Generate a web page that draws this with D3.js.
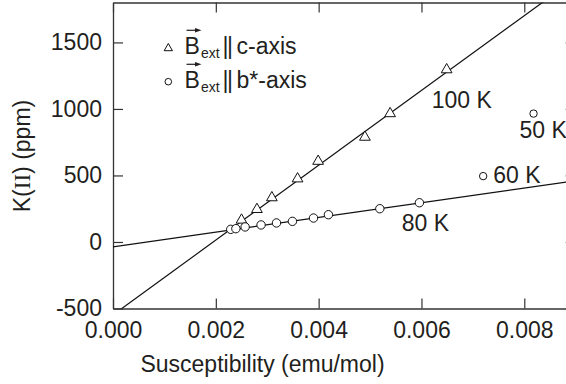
<!DOCTYPE html>
<html>
<head>
<meta charset="utf-8">
<script src="https://cdn.jsdelivr.net/npm/d3@7"></script>
<style>
  body { margin: 0; background: #fff; }
  text { font-family: "Liberation Sans", Arial, sans-serif; fill: #231f20; }
</style>
</head>
<body>
<svg id="chart" width="566" height="384"></svg>
<script>
// Axis ticks
const xTicks = [0, 0.002, 0.004, 0.006, 0.008];
const xTickLabels = ["0.000", "0.002", "0.004", "0.006", "0.008"];
const yTicks = [-500, 0, 500, 1000, 1500];
const yTickLabels = ["-500", "0", "500", "1000", "1500"];

// B_ext || c-axis (triangles)
const cAxisX = [0.00250, 0.00280, 0.00309, 0.00359, 0.00399, 0.00490, 0.00539, 0.00649];
const cAxisY = [165, 245, 333, 475, 607, 788, 965, 1295];

// B_ext || b*-axis (circles), points on the linear fit
const bAxisX = [0.00229, 0.00239, 0.00257, 0.00288, 0.00318, 0.00349, 0.00390, 0.00419, 0.00519, 0.00596];
const bAxisY = [95, 100, 113, 128, 143, 155, 180, 205, 250, 295];

// b*-axis points at low temperature (off the fit)
const bLowX = [0.00720, 0.00818];
const bLowY = [495, 965];

// Linear fits: [susceptibility, K] end points
const fitC = [[0, -548], [0.009, 1982]];
const fitB = [[0, -37], [0.009, 461]];

// Temperature labels
const tempLabels = ["100 K", "80 K", "60 K", "50 K"];

const legendLabels = ["c-axis", "b*-axis"];

const svg = d3.select("#chart");

const x = d3.scaleLinear().domain([0, 0.009]).range([113, 575.7]);
const y = d3.scaleLinear().domain([-500, 1800]).range([308.5, 2.5]);

const axisColor = "#333";
const fontSize = 23;

// Clip for the plot area
svg.append("defs").append("clipPath").attr("id", "plot-clip")
  .append("rect")
  .attr("x", x.range()[0]).attr("y", y.range()[1])
  .attr("width", x.range()[1] - x.range()[0])
  .attr("height", y.range()[0] - y.range()[1]);

function styleAxis(g) {
  g.select(".domain").attr("stroke", axisColor).attr("stroke-width", 1.3);
  g.selectAll(".tick line").attr("stroke", axisColor).attr("stroke-width", 1.2);
  g.selectAll(".tick text")
    .attr("font-size", fontSize)
    .attr("font-family", "'Liberation Sans', Arial, sans-serif")
    .attr("fill", "#231f20");
}

// Bottom axis
svg.append("g")
  .attr("transform", `translate(0,${y.range()[0]})`)
  .call(d3.axisBottom(x).tickValues(xTicks)
    .tickFormat((d, i) => xTickLabels[i])
    .tickSizeInner(-10).tickSizeOuter(0).tickPadding(13))
  .call(styleAxis);

// Left axis
svg.append("g")
  .attr("transform", `translate(${x.range()[0]},0)`)
  .call(d3.axisLeft(y).tickValues(yTicks)
    .tickFormat((d, i) => yTickLabels[i])
    .tickSizeInner(-10).tickSizeOuter(0).tickPadding(11))
  .call(styleAxis);

// Top axis (ticks only)
svg.append("g")
  .attr("transform", `translate(0,${y.range()[1]})`)
  .call(d3.axisTop(x).tickValues(xTicks).tickFormat("")
    .tickSizeInner(-10).tickSizeOuter(0))
  .call(styleAxis);

// Right axis (ticks only)
svg.append("g")
  .attr("transform", `translate(${x.range()[1]},0)`)
  .call(d3.axisRight(y).tickValues(yTicks).tickFormat("")
    .tickSizeInner(-10).tickSizeOuter(0))
  .call(styleAxis);

// Fit lines
const line = d3.line().x(d => x(d[0])).y(d => y(d[1]));
const fits = svg.append("g").attr("clip-path", "url(#plot-clip)");
[fitC, fitB].forEach(f => {
  fits.append("path").attr("d", line(f))
    .attr("fill", "none").attr("stroke", "#111").attr("stroke-width", 1.2);
});

// Triangles
const tri = d3.symbol().type(d3.symbolTriangle).size(50);
svg.append("g").selectAll("path")
  .data(cAxisX.map((v, i) => [v, cAxisY[i]]))
  .join("path")
  .attr("d", tri)
  .attr("transform", d => `translate(${x(d[0])},${y(d[1])})`)
  .attr("fill", "#fff").attr("stroke", "#111").attr("stroke-width", 1);

// Circles
svg.append("g").selectAll("circle")
  .data(bAxisX.map((v, i) => [v, bAxisY[i]]))
  .join("circle")
  .attr("cx", d => x(d[0])).attr("cy", d => y(d[1])).attr("r", 4.2)
  .attr("fill", "#fff").attr("stroke", "#111").attr("stroke-width", 1);

svg.append("g").selectAll("circle")
  .data(bLowX.map((v, i) => [v, bLowY[i]]))
  .join("circle")
  .attr("cx", d => x(d[0])).attr("cy", d => y(d[1])).attr("r", 3.7)
  .attr("fill", "#fff").attr("stroke", "#111").attr("stroke-width", 1);

// Temperature labels placed next to their points
const labelAnchors = [
  { p: [cAxisX[cAxisX.length - 1], cAxisY[cAxisY.length - 1]], dx: -15, dy: 38 },
  { p: [bAxisX[bAxisX.length - 1], bAxisY[bAxisY.length - 1]], dx: -17.6, dy: 28.4 },
  { p: [bLowX[0], bLowY[0]], dx: 10, dy: 6.8 },
  { p: [bLowX[1], bLowY[1]], dx: -14, dy: 24.3 }
];
svg.append("g").selectAll("text")
  .data(tempLabels)
  .join("text")
  .attr("x", (d, i) => x(labelAnchors[i].p[0]) + labelAnchors[i].dx)
  .attr("y", (d, i) => y(labelAnchors[i].p[1]) + labelAnchors[i].dy)
  .attr("font-size", fontSize)
  .text(d => d);

// Axis titles
svg.append("text")
  .attr("x", 262.5).attr("y", 372)
  .attr("text-anchor", "middle")
  .attr("font-size", fontSize)
  .text("Susceptibility (emu/mol)");

const yTitle = svg.append("text")
  .attr("transform", "translate(30,156) rotate(-90)")
  .attr("text-anchor", "middle")
  .attr("font-size", fontSize);
yTitle.append("tspan").text("K(");
yTitle.append("tspan").attr("font-family", "'Liberation Serif', 'Times New Roman', serif").text("II");
yTitle.append("tspan").text(") (ppm)");

// Legend
const legend = svg.append("g");
const rows = [
  { sym: "tri", cy: 48.3, base: 54.3 },
  { sym: "circ", cy: 81.7, base: 88.3 }
];
rows.forEach((r, i) => {
  if (r.sym === "tri") {
    legend.append("path")
      .attr("d", d3.symbol().type(d3.symbolTriangle).size(30)())
      .attr("transform", `translate(168.3,${r.cy})`)
      .attr("fill", "#fff").attr("stroke", "#111").attr("stroke-width", 1);
  } else {
    legend.append("circle").attr("cx", 168.3).attr("cy", r.cy).attr("r", 3.3)
      .attr("fill", "#fff").attr("stroke", "#111").attr("stroke-width", 1);
  }
  // vector arrow above B
  const ay = r.base - 24;
  legend.append("line")
    .attr("x1", 186.5).attr("x2", 197).attr("y1", ay).attr("y2", ay)
    .attr("stroke", "#231f20").attr("stroke-width", 1.2);
  legend.append("path")
    .attr("d", `M${201.5},${ay} L${195},${ay - 2.3} L${195},${ay + 2.3} Z`)
    .attr("fill", "#231f20");
  legend.append("text").attr("x", 184.5).attr("y", r.base)
    .attr("font-size", fontSize).text("B");
  legend.append("text").attr("x", 201).attr("y", r.base + 4)
    .attr("font-size", 14).text("ext");
  legend.append("text").attr("x", 222.5).attr("y", r.base)
    .attr("font-size", fontSize).attr("letter-spacing", -1.5).text("||");
  legend.append("text").attr("x", 236.5).attr("y", r.base)
    .attr("font-size", fontSize).text(legendLabels[i]);
});
</script>
</body>
</html>
